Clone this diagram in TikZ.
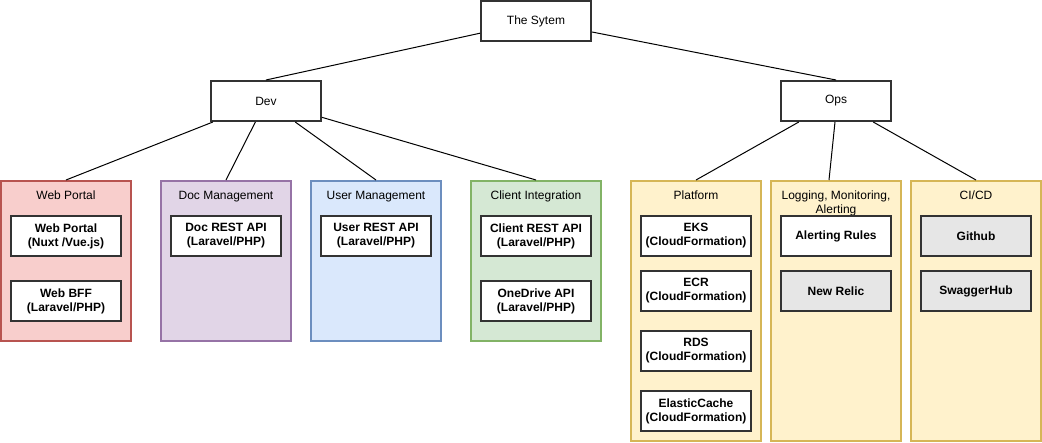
\documentclass[tikz,border=0pt]{standalone}
\usepackage{fontspec}
\setmainfont{Liberation Sans}
\usetikzlibrary{calc}
\definecolor{boxline}{HTML}{333333}
\definecolor{redf}{HTML}{F8CECC}\definecolor{redd}{HTML}{B85450}
\definecolor{purf}{HTML}{E1D5E7}\definecolor{purd}{HTML}{9673A6}
\definecolor{bluf}{HTML}{DAE8FC}\definecolor{blud}{HTML}{6C8EBF}
\definecolor{grnf}{HTML}{D5E8D4}\definecolor{grnd}{HTML}{82B366}
\definecolor{yelf}{HTML}{FFF2CC}\definecolor{yeld}{HTML}{D6B656}
\definecolor{grayf}{HTML}{E6E6E6}
\tikzset{
  topbox/.style={draw=boxline, line width=2pt, fill=white, minimum width=110pt, minimum height=40pt, inner sep=0pt, font=\fontsize{12}{14}\selectfont},
  itembox/.style={draw=boxline, line width=2pt, fill=white, minimum width=110pt, minimum height=40pt, inner sep=0pt, align=center, font=\fontsize{12}{14}\selectfont\bfseries},
  grayitem/.style={itembox, fill=grayf},
  grp/.style={line width=2pt, minimum width=130pt, inner sep=0pt},
  devgrp/.style={grp, minimum height=160pt},
  opsgrp/.style={grp, minimum height=260pt, draw=yeld, fill=yelf},
  grplabel/.style={anchor=north, inner sep=0pt, align=center, font=\fontsize{12}{14}\selectfont},
  conn/.style={draw=black, line width=1pt}
}
\begin{document}
\begin{tikzpicture}[x=1pt, y=-1pt]
\useasboundingbox (0,0) rectangle (1042,442);
% groups
\node[devgrp, draw=redd, fill=redf] (wp) at (66,261) {};
\node[devgrp, draw=purd, fill=purf] (doc) at (226,261) {};
\node[devgrp, draw=blud, fill=bluf] (usr) at (376,261) {};
\node[devgrp, draw=grnd, fill=grnf] (cli) at (536,261) {};
\node[opsgrp] (plat) at (696,311) {};
\node[opsgrp] (log) at (836,311) {};
\node[opsgrp] (cicd) at (976,311) {};
% group labels
\node[grplabel] (wpl) at (66,191) {Web Portal};
\node[grplabel] (docl) at (226,191) {Doc Management};
\node[grplabel] (usrl) at (376,191) {User Management};
\node[grplabel] (clil) at (536,191) {Client Integration};
\node[grplabel] (platl) at (696,191) {Platform};
\node[grplabel] (logl) at (836,191) {Logging, Monitoring,\\Alerting};
\node[grplabel] (cicdl) at (976,191) {CI/CD};
% top boxes
\node[topbox] (sys) at (536,21) {The Sytem};
\node[topbox] (dev) at (266,101) {Dev};
\node[topbox] (ops) at (836,101) {Ops};
% items
\node[itembox] (wp1) at (66,236) {Web Portal\\(Nuxt /Vue.js)};
\node[itembox] (wp2) at (66,301) {Web BFF\\(Laravel/PHP)};
\node[itembox] (doc1) at (226,236) {Doc REST API\\(Laravel/PHP)};
\node[itembox] (usr1) at (376,236) {User REST API\\(Laravel/PHP)};
\node[itembox] (cli1) at (536,236) {Client REST API\\(Laravel/PHP)};
\node[itembox] (cli2) at (536,301) {OneDrive API\\(Laravel/PHP)};
\node[itembox] (eks) at (696,236) {EKS\\(CloudFormation)};
\node[itembox] (ecr) at (696,291) {ECR\\(CloudFormation)};
\node[itembox] (rds) at (696,351) {RDS\\(CloudFormation)};
\node[itembox] (ec) at (696,411) {ElasticCache\\(CloudFormation)};
\node[itembox] (alr) at (836,236) {Alerting Rules};
\node[grayitem] (nr) at (836,291) {New Relic};
\node[grayitem] (gh) at (976,236) {Github};
\node[grayitem] (sh) at (976,291) {SwaggerHub};
% connectors
\draw[conn] (sys) -- (dev.north);
\draw[conn] (sys) -- (ops.north);
\draw[conn] (dev) -- (wp.north);
\draw[conn] (dev) -- (doc.north);
\draw[conn] (dev) -- (usr.north);
\draw[conn] (dev) -- (cli.north);
\draw[conn] (ops) -- (plat.north);
\draw[conn] ([xshift=-1pt]ops.south) -- ([xshift=-7pt]log.north);
\draw[conn] (ops) -- (cicd.north);
\end{tikzpicture}
\end{document}
